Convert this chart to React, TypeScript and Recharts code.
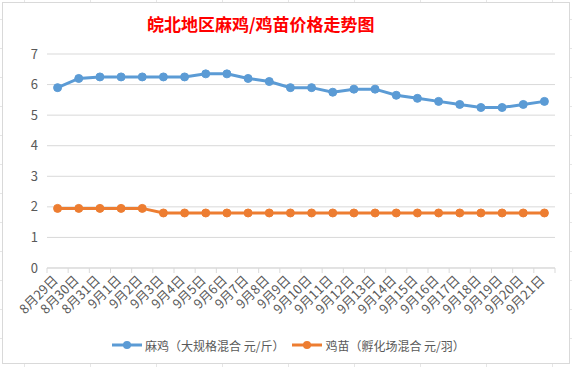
import React from 'react';
import { LineChart, Line, XAxis, YAxis, CartesianGrid, Legend } from 'recharts';

const dates = [
  '8月29日', '8月30日', '8月31日', '9月1日', '9月2日', '9月3日', '9月4日', '9月5日',
  '9月6日', '9月7日', '9月8日', '9月9日', '9月10日', '9月11日', '9月12日', '9月13日',
  '9月14日', '9月15日', '9月16日', '9月17日', '9月18日', '9月19日', '9月20日', '9月21日',
];
// 麻鸡（大规格混合 元/斤）
const majiPrice = [
  5.9, 6.2, 6.25, 6.25, 6.25, 6.25, 6.25, 6.35, 6.35, 6.2, 6.1, 5.9,
  5.9, 5.75, 5.85, 5.85, 5.65, 5.55, 5.45, 5.35, 5.25, 5.25, 5.35, 5.45,
];
// 鸡苗（孵化场混合 元/羽）
const jimiaoPrice = [
  1.95, 1.95, 1.95, 1.95, 1.95, 1.8, 1.8, 1.8, 1.8, 1.8, 1.8, 1.8,
  1.8, 1.8, 1.8, 1.8, 1.8, 1.8, 1.8, 1.8, 1.8, 1.8, 1.8, 1.8,
];
const yTicks = [0, 1, 2, 3, 4, 5, 6, 7];
const seriesNames = ['麻鸡（大规格混合 元/斤）', '鸡苗（孵化场混合 元/羽）'];

const BLUE = '#5B9BD5';
const ORANGE = '#ED7D31';
const FONT = '"Noto Sans CJK SC", "Noto Sans", sans-serif';

const data = dates.map((date, i) => ({
  date,
  maji: majiPrice[i],
  jimiao: jimiaoPrice[i],
}));

const PLOT_W = 508;
const BAND = PLOT_W / dates.length;

const DateTick = (props: any) => {
  const { x, y, payload, index } = props;
  const ax = x + 1;
  const ay = y + 13;
  return (
    <g>
      <line x1={x - BAND / 2} x2={x - BAND / 2} y1={y} y2={y + 5} stroke="#D9D9D9" />
      {index === dates.length - 1 && (
        <line x1={x + BAND / 2} x2={x + BAND / 2} y1={y} y2={y + 5} stroke="#D9D9D9" />
      )}
      <text
        x={ax}
        y={ay}
        textAnchor="end"
        transform={`rotate(-45, ${ax}, ${ay})`}
        fill="#595959"
        fontSize={13}
        fontFamily={FONT}
      >
        {payload.value}
      </text>
    </g>
  );
};

const LegendContent = () => {
  const colors = [BLUE, ORANGE];
  return (
    <div style={{ display: 'flex', alignItems: 'center', height: 20, paddingLeft: 112, fontFamily: FONT, fontSize: 12, color: '#595959' }}>
      {seriesNames.map((name, i) => (
        <div key={name} style={{ display: 'flex', alignItems: 'center', marginRight: 8 }}>
          <svg width={30} height={12} style={{ marginRight: 3 }}>
            <line x1={0} x2={30} y1={6} y2={6} stroke={colors[i]} strokeWidth={3} />
            <circle cx={15} cy={6} r={4} fill={colors[i]} />
          </svg>
          <span>{name}</span>
        </div>
      ))}
    </div>
  );
};

export default function App() {
  return (
    <div
      style={{
        position: 'absolute',
        left: 0,
        top: 0,
        width: 572,
        height: 367,
        overflow: 'hidden',
        background: '#fff',
        backgroundImage:
          'repeating-linear-gradient(90deg, transparent 0 24px, #E6E6E6 24px 25px, transparent 25px 66px), repeating-linear-gradient(0deg, transparent 0 28px, #E6E6E6 28px 29px)',
      }}
    >
      <div
        style={{
          position: 'absolute',
          left: 2,
          top: 2,
          width: 566,
          height: 360,
          background: '#fff',
          border: '1px solid #D9D9D9',
        }}
      />
      <div
        style={{
          position: 'absolute',
          left: 147,
          top: 15,
          lineHeight: '17px',
          fontSize: 17,
          fontWeight: 'bold',
          color: '#FF0000',
          fontFamily: FONT,
          whiteSpace: 'nowrap',
        }}
      >
        皖北地区麻鸡/鸡苗价格走势图
      </div>
      <div style={{ position: 'absolute', left: 0, top: 0 }}>
        <LineChart width={572} height={367} data={data} margin={{ top: 54, right: 17, bottom: 12, left: 0 }}>
          <CartesianGrid horizontal vertical={false} stroke="#D9D9D9" />
          <XAxis
            dataKey="date"
            interval={0}
            tickLine={false}
            tickSize={0}
            tickMargin={0}
            height={67}
            padding={{ left: BAND / 2, right: BAND / 2 }}
            stroke="#D9D9D9"
            tick={<DateTick />}
          />
          <YAxis
            domain={[0, 7]}
            ticks={yTicks}
            width={47}
            axisLine={false}
            tickLine={false}
            tickSize={0}
            tickMargin={9}
            tick={{ fill: '#595959', fontSize: 13, fontFamily: FONT }}
          />
          <Legend verticalAlign="bottom" content={<LegendContent />} />
          <Line
            dataKey="maji"
            name={seriesNames[0]}
            stroke={BLUE}
            strokeWidth={3}
            dot={{ r: 4, fill: BLUE, stroke: BLUE, strokeWidth: 1 }}
            isAnimationActive={false}
          />
          <Line
            dataKey="jimiao"
            name={seriesNames[1]}
            stroke={ORANGE}
            strokeWidth={3}
            dot={{ r: 4, fill: ORANGE, stroke: ORANGE, strokeWidth: 1 }}
            isAnimationActive={false}
          />
        </LineChart>
      </div>
    </div>
  );
}
